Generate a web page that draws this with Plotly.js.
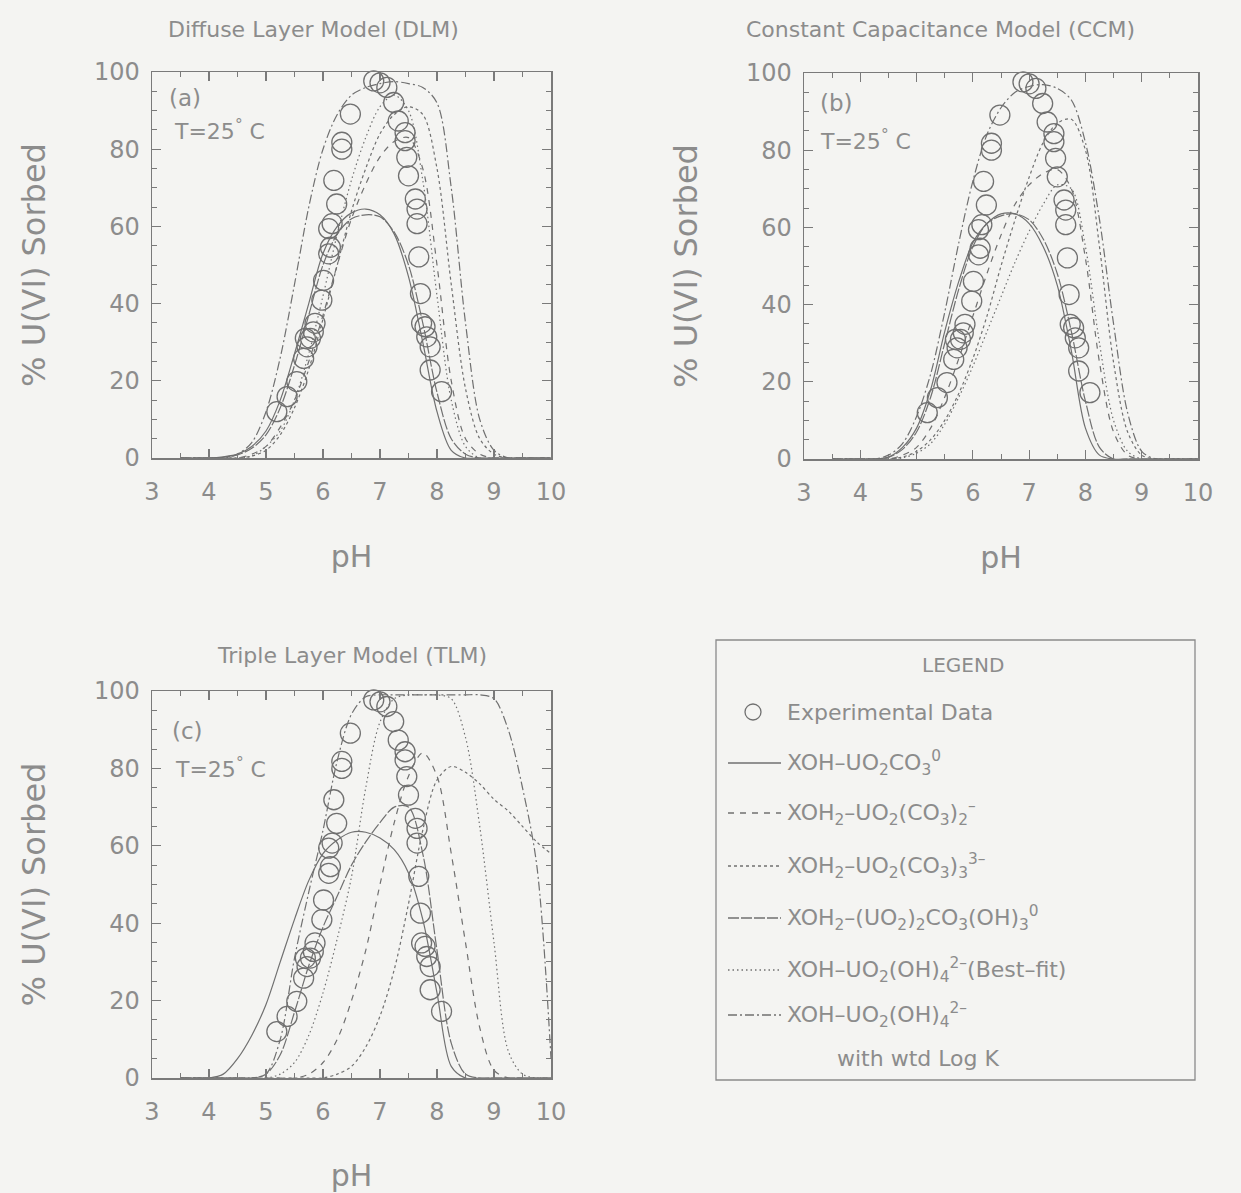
<!DOCTYPE html>
<html>
<head>
<meta charset="utf-8">
<script src="https://cdn.plot.ly/plotly-3.0.1.min.js"></script>
<style>html,body{margin:0;padding:0;background:#f4f4f2;}#chart{width:1241px;height:1193px;}</style>
</head>
<body>
<div id="chart"></div>
<script>
// ---------- data ----------
const panelTitles = ["Diffuse Layer Model (DLM)", "Constant Capacitance Model (CCM)", "Triple Layer Model (TLM)"];
const panelTags = ["(a)", "(b)", "(c)"];
const tempLabel = "T=25<sup>°</sup> C";
const xTickVals = [3, 4, 5, 6, 7, 8, 9, 10];
const yTickVals = [0, 20, 40, 60, 80, 100];
const xTitle = "pH";
const yTitle = "% U(VI) Sorbed";

const seriesNames = [
  "XOH–UO<sub>2</sub>CO<sub>3</sub><sup>0</sup>",
  "XOH<sub>2</sub>–UO<sub>2</sub>(CO<sub>3</sub>)<sub>2</sub><sup>–</sup>",
  "XOH<sub>2</sub>–UO<sub>2</sub>(CO<sub>3</sub>)<sub>3</sub><sup>3–</sup>",
  "XOH<sub>2</sub>–(UO<sub>2</sub>)<sub>2</sub>CO<sub>3</sub>(OH)<sub>3</sub><sup>0</sup>",
  "XOH–UO<sub>2</sub>(OH)<sub>4</sub><sup>2–</sup>(Best–fit)",
  "XOH–UO<sub>2</sub>(OH)<sub>4</sub><sup>2–</sup>"
];
const lastNameLine2 = "with wtd Log K";
const expName = "Experimental Data";

// experimental data (same in every panel)
const expPH = [5.19,5.37,5.54,5.66,5.72,5.78,5.69,5.83,5.86,5.98,6.01,6.10,6.13,6.10,6.16,6.24,6.19,6.33,6.33,6.48,6.89,7.00,7.12,7.24,7.32,7.44,7.44,7.47,7.50,7.62,7.65,7.65,7.68,7.71,7.73,7.79,7.82,7.88,7.88,8.08];
const expSorbed = [12.0,15.9,19.8,25.8,28.8,31.0,31.0,32.7,34.9,40.9,46.0,52.9,54.6,59.4,60.7,65.8,71.9,80.0,81.8,89.1,97.7,97.2,96.0,92.1,87.3,84.3,82.2,77.9,73.1,67.1,64.5,60.7,52.1,42.6,34.9,34.0,31.4,28.8,22.8,17.2];

// model curves, read at these pH values
const pHGrid = [3.5,3.75,4.0,4.25,4.5,4.75,5.0,5.25,5.5,5.75,6.0,6.25,6.5,6.75,7.0,7.25,7.5,7.75,8.0,8.25,8.5,8.75,9.0,9.25,9.5,9.75,10.0];

// (a) DLM
const dlm1 = [0,0,0,0.3,1,3,7,15,27,40,53,60,63.5,64.5,63,58,47,30,12,2,0,0,0,0,0,0,0];
const dlm2 = [0,0,0,0,0,1,3,8,15,25,37,50,62,71,78,82,83,75,50,20,5,1,0,0,0,0,0];
const dlm3 = [0,0,0,0,0,0.5,2,6,13,23,36,50,64,75,84,89,91,89,75,45,18,5,1,0,0,0,0];
const dlm4 = [0,0,0,0.2,0.8,2.5,6,13,24,37,50,58,62,63,62.5,58.5,50,35,17,5,1,0,0,0,0,0,0];
const dlm5 = [0,0,0,0,0,0.5,3,7,15,27,42,58,72,83,91,94,90,72,42,15,3,0,0,0,0,0,0];
const dlm6 = [0,0,0,0,1,4,12,26,45,65,80,89,94,96,97,97.5,97,96,92,70,35,10,2,0,0,0,0];

// (b) CCM
const ccm1 = [0,0,0,0,0.5,3,8,18,33,46,56,61,63.5,63.5,61,55,45,28,8,1,0,0,0,0,0,0,0];
const ccm2 = [0,0,0,0,0,1,3,8,16,26,37,48,58,66,71,74,75,70,52,25,7,1,0,0,0,0,0];
const ccm3 = [0,0,0,0,0,0.5,2,5,10,17,26,37,50,62,73,82,87,88,80,55,25,7,1,0,0,0,0];
const ccm4 = [0,0,0,0,0.4,2.5,7,16,30,44,55,61,63,63.5,62,57,48,33,15,3,0,0,0,0,0,0,0];
const ccm5 = [0,0,0,0,0,0.3,1.5,4,9,16,24,33,42,51,59,66,71,70,55,30,10,2,0,0,0,0,0];
const ccm6 = [0,0,0,0,1,4,11,22,38,56,72,84,91,95,96.5,97,96,93,82,62,35,12,2,0,0,0,0];

// (c) TLM
const tlm1 = [0,0,0,1,5,11,19,30,41,51,58,61.5,63.5,63.5,62,59,53,41,22,3,0,0,0,0,0,0,0];
const tlm2 = [0,0,0,0,0,0,0,0,0,1,4,10,20,33,50,66,78,84,78,58,35,13,2,0,0,0,0];
const tlm3 = [0,0,0,0,0,0,0,0,0,0,0,1,3,8,16,28,45,64,77,80.5,79,76,72,69,65,61,58];
const tlm4 = [0,0,0,0,0,0,1,6,17,29,39,47,55,61,66,70,70,58,33,9,1,0,0,0,0,0,0];
const tlm5 = [0,0,0,0,0,0,0,1,4,11,22,36,52,75,92,98,99,99,99,98,88,65,35,7,1,0,0];
const tlm6 = [0,0,0,0,0,0,1,10,31,48,64,82,94,98.5,99,99,99,99,99,99,99,99,98,90,75,55,5];

// ---------- styling ----------
const FONT = "DejaVu Sans, Liberation Sans, sans-serif";
const TXT = "#8c8c8c";
const INK = "#707070";
const BG = "#f4f4f2";
const dashes = ["solid", "6px,6px", "3px,3px", "11px,2px", "1.5px,3px", "9px,3px,2px,3px"];

const W = 1241, H = 1193;
const px = v => v / W;
const py = v => 1 - v / H;

const panels = [
  {curves: [dlm1,dlm2,dlm3,dlm4,dlm5,dlm6], xa: "x",  ya: "y",  xd: [px(152), px(551)], yd: [py(458), py(72)]},
  {curves: [ccm1,ccm2,ccm3,ccm4,ccm5,ccm6], xa: "x2", ya: "y2", xd: [px(804), px(1198)], yd: [py(459), py(73)]},
  {curves: [tlm1,tlm2,tlm3,tlm4,tlm5,tlm6], xa: "x3", ya: "y3", xd: [px(152), px(551)], yd: [py(1078), py(691)]}
];

const traces = [];
panels.forEach((p, pi) => {
  p.curves.forEach((c, ci) => {
    traces.push({
      type: "scatter", mode: "lines", x: pHGrid, y: c, xaxis: p.xa, yaxis: p.ya,
      name: seriesNames[ci], showlegend: false, hoverinfo: "skip",
      line: {color: INK, width: 1.2, dash: dashes[ci], shape: "spline", smoothing: 0.9}
    });
  });
  traces.push({
    type: "scatter", mode: "markers", x: expPH, y: expSorbed, xaxis: p.xa, yaxis: p.ya,
    name: expName, showlegend: false, cliponaxis: false,
    marker: {symbol: "circle-open", size: 20, color: INK, line: {color: INK, width: 1.3}}
  });
});

function xAxis(dom, anchor) {
  return {
    domain: dom, anchor: anchor, range: [3, 10], tickmode: "array", tickvals: xTickVals,
    ticks: "inside", ticklen: 9, tickwidth: 1.2, tickcolor: "#7a7a7a",
    minor: {tickmode: "linear", tick0: 3, dtick: 0.5, ticks: "inside", ticklen: 5, tickwidth: 1, tickcolor: "#7a7a7a", showgrid: false},
    showline: true, linecolor: "#7a7a7a", linewidth: 1.5, mirror: "ticks",
    showgrid: false, zeroline: false, fixedrange: true,
    ticklabelstandoff: 12,
    tickfont: {family: FONT, size: 24, color: TXT},
    title: {text: xTitle, font: {family: FONT, size: 30, color: TXT}, standoff: 40}
  };
}
function yAxis(dom, anchor) {
  return {
    domain: dom, anchor: anchor, range: [0, 100], tickmode: "array", tickvals: yTickVals,
    ticks: "inside", ticklen: 9, tickwidth: 1.2, tickcolor: "#7a7a7a",
    minor: {tickmode: "linear", tick0: 0, dtick: 5, ticks: "inside", ticklen: 5, tickwidth: 1, tickcolor: "#7a7a7a", showgrid: false},
    showline: true, linecolor: "#7a7a7a", linewidth: 1.5, mirror: "ticks",
    showgrid: false, zeroline: false, fixedrange: true,
    ticklabelstandoff: 6,
    tickfont: {family: FONT, size: 24, color: TXT},
    title: {text: yTitle, font: {family: FONT, size: 32, color: TXT}, standoff: 38}
  };
}

const annotations = [];
const shapes = [];
const titlePos = [[313, 30], [940, 30], [352, 655]];
panelTitles.forEach((t, i) => annotations.push({
  xref: "paper", yref: "paper", x: px(titlePos[i][0]), y: py(titlePos[i][1]),
  xanchor: "center", yanchor: "middle", showarrow: false, text: t,
  font: {family: FONT, size: 22, color: TXT}
}));
const tagPos = [[167, 98], [818, 103], [170, 731]];
const tempPos = [[172, 130], [818, 140], [173, 768]];
panelTags.forEach((t, i) => {
  annotations.push({xref: "paper", yref: "paper", x: px(tagPos[i][0]), y: py(tagPos[i][1]),
    xanchor: "left", yanchor: "middle", showarrow: false, text: t, font: {family: FONT, size: 23, color: TXT}});
  annotations.push({xref: "paper", yref: "paper", x: px(tempPos[i][0]), y: py(tempPos[i][1]),
    xanchor: "left", yanchor: "middle", showarrow: false, text: tempLabel, font: {family: FONT, size: 22, color: TXT}});
});

// legend box (drawn by hand to match the original layout)
shapes.push({type: "rect", xref: "paper", yref: "paper", x0: px(716), x1: px(1195), y0: py(1080), y1: py(640),
  line: {color: "#8a8a8a", width: 1.3}, fillcolor: "rgba(0,0,0,0)"});
annotations.push({xref: "paper", yref: "paper", x: px(963), y: py(665), xanchor: "center", yanchor: "middle",
  showarrow: false, text: "LEGEND", font: {family: FONT, size: 20, color: TXT}});
shapes.push({type: "circle", xref: "paper", yref: "paper", x0: px(745), x1: px(761), y0: py(720), y1: py(704),
  line: {color: INK, width: 1.3}});
annotations.push({xref: "paper", yref: "paper", x: px(785), y: py(712), xanchor: "left", yanchor: "middle",
  showarrow: false, text: expName, font: {family: FONT, size: 22, color: TXT}});
const rowY = [763, 813, 866, 918, 970, 1015];
seriesNames.forEach((n, i) => {
  shapes.push({type: "line", xref: "paper", yref: "paper", x0: px(728), x1: px(781), y0: py(rowY[i]), y1: py(rowY[i]),
    line: {color: INK, width: 1.3, dash: dashes[i]}});
  annotations.push({xref: "paper", yref: "paper", x: px(785), y: py(rowY[i]), xanchor: "left", yanchor: "middle",
    showarrow: false, text: n, font: {family: FONT, size: 22, color: TXT}});
});
annotations.push({xref: "paper", yref: "paper", x: px(918), y: py(1058), xanchor: "center", yanchor: "middle",
  showarrow: false, text: lastNameLine2, font: {family: FONT, size: 22, color: TXT}});

const layout = {
  width: W, height: H, margin: {l: 0, r: 0, t: 0, b: 0},
  paper_bgcolor: BG, plot_bgcolor: BG, showlegend: false,
  font: {family: FONT, color: TXT},
  xaxis: xAxis(panels[0].xd, "y"), yaxis: yAxis(panels[0].yd, "x"),
  xaxis2: xAxis(panels[1].xd, "y2"), yaxis2: yAxis(panels[1].yd, "x2"),
  xaxis3: xAxis(panels[2].xd, "y3"), yaxis3: yAxis(panels[2].yd, "x3"),
  annotations: annotations, shapes: shapes
};

Plotly.newPlot("chart", traces, layout, {displayModeBar: false, staticPlot: true});
</script>
</body>
</html>
